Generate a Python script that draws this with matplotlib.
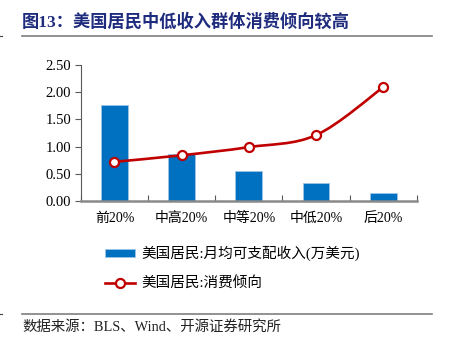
import numpy as np
import matplotlib
matplotlib.use('Agg')
import matplotlib.pyplot as plt
from matplotlib.path import Path
from matplotlib.patches import PathPatch, Patch
from matplotlib.lines import Line2D

# 数据
categories = ['前20%', '中高20%', '中等20%', '中低20%', '后20%']
income = [1.76, 0.87, 0.56, 0.34, 0.14]        # 月均可支配收入(万美元)
propensity = [0.72, 0.84, 0.99, 1.21, 2.09]    # 消费倾向
yticks = [0.0, 0.5, 1.0, 1.5, 2.0, 2.5]

plt.rcParams['font.family'] = ['Liberation Serif', 'Noto Sans CJK SC']
plt.rcParams['axes.unicode_minus'] = False

bar_color = '#0070C0'
line_color = '#C00000'
title_color = '#1F2C7E'

fig = plt.figure(figsize=(4.52, 3.49), dpi=100)
ax = fig.add_axes([0.179, 0.424, 0.743, 0.39])

x = np.arange(len(categories))
ax.bar(x, income, width=0.4, color=bar_color, edgecolor='#9DC3E6', linewidth=0.6, zorder=2)

# 平滑曲线 (Excel式贝塞尔平滑)
pts = np.column_stack([x, propensity]).astype(float)
ext = np.vstack([pts[0], pts, pts[-1]])
verts = [tuple(pts[0])]
codes = [Path.MOVETO]
for i in range(len(pts) - 1):
    p0, p1, p2, p3 = ext[i], ext[i + 1], ext[i + 2], ext[i + 3]
    c1 = p1 + (p2 - p0) / 6
    c2 = p2 - (p3 - p1) / 6
    verts += [tuple(c1), tuple(c2), tuple(p2)]
    codes += [Path.CURVE4] * 3
ax.add_patch(PathPatch(Path(verts, codes), facecolor='none', edgecolor=line_color,
                       linewidth=1.9, zorder=3))
ax.plot(x, propensity, linestyle='none', marker='o', markersize=6.5,
        markerfacecolor='white', markeredgecolor=line_color, markeredgewidth=1.6, zorder=4)

ax.set_xlim(-0.5, len(categories) - 0.5)
ax.set_ylim(0, 2.5)
ax.set_yticks(yticks)
ax.set_yticklabels([f'{v:.2f}' for v in yticks], fontsize=10.5)
ax.set_xticks(x)
ax.set_xticklabels(categories, fontsize=10)
ax.set_xticks(np.arange(len(categories) + 1) - 0.5, minor=True)
ax.tick_params(axis='x', which='major', length=0, pad=8)
ax.tick_params(axis='x', which='minor', direction='in', length=4, color='#595959', width=0.8)
ax.tick_params(axis='y', direction='out', length=4, color='#595959', width=0.8, pad=3)

for s in ['top', 'right']:
    ax.spines[s].set_visible(False)
ax.spines['left'].set_color('#595959')
ax.spines['left'].set_linewidth(0.8)
ax.spines['bottom'].set_color('#898989')
ax.spines['bottom'].set_linewidth(1.8)

# 图例
handles = [Patch(facecolor=bar_color, edgecolor='#9DC3E6', linewidth=0.6),
           Line2D([], [], color=line_color, linewidth=1.9, marker='o', markersize=6.5,
                  markerfacecolor='white', markeredgecolor=line_color, markeredgewidth=1.6)]
labels = ['美国居民:月均可支配收入(万美元)', '美国居民:消费倾向']
fig.legend(handles, labels, loc='upper left', bbox_to_anchor=(0.232, 0.296),
           frameon=False, fontsize=10.5, handlelength=2.1, handleheight=0.5,
           labelspacing=1.05, borderpad=0, borderaxespad=0, handletextpad=0.4)

# 标题与来源
fig.text(22 / 452, 1 - 22 / 349, '图13：美国居民中低收入群体消费倾向较高',
         fontsize=12.4, fontweight='bold', color=title_color, va='center', ha='left',
         family=['Liberation Serif', 'Noto Sans CJK SC'])
fig.add_artist(Line2D([22 / 452, 432 / 452], [1 - 36 / 349] * 2, color='#7F7F7F', linewidth=1.2))
fig.add_artist(Line2D([22 / 452, 432 / 452], [1 - 314 / 349] * 2, color='#7F7F7F', linewidth=1.2))
# 左侧小刻线
fig.add_artist(Line2D([0, 2 / 452], [1 - 36 / 349] * 2, color='#404040', linewidth=0.8))
fig.add_artist(Line2D([0, 2 / 452], [1 - 314 / 349] * 2, color='#404040', linewidth=0.8))
fig.text(22 / 452, 1 - 327 / 349, '数据来源：BLS、Wind、开源证券研究所',
         fontsize=10.4, color='#222222', va='center', ha='left')

fig.savefig('out.png', dpi=100)
